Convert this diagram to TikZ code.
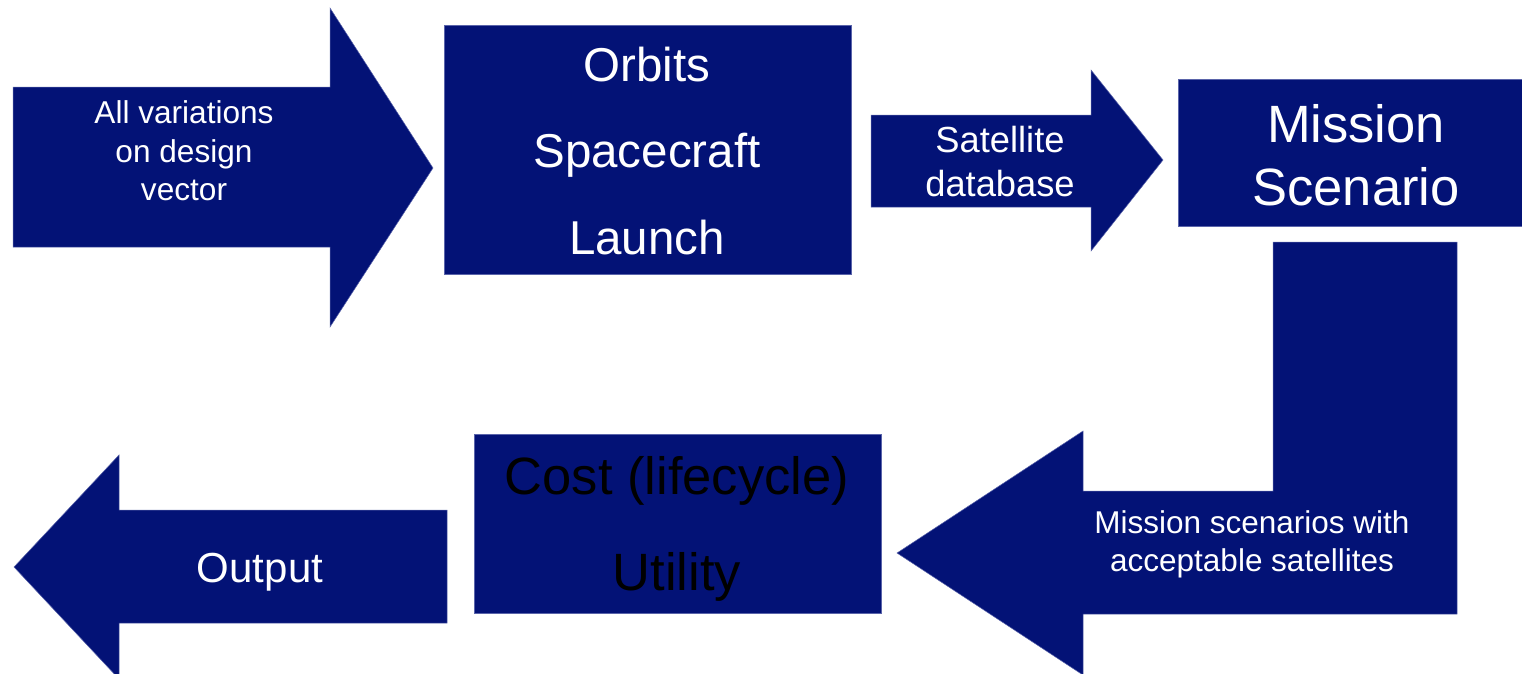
\documentclass[tikz,border=0pt]{standalone}
\usepackage{fontspec}
\setmainfont{Liberation Sans}
\definecolor{navy}{RGB}{3,18,118}
\definecolor{navyedge}{RGB}{90,100,170}
\begin{document}
\begin{tikzpicture}[x=1pt,y=-1pt,
  blk/.style={fill=navy, draw=navyedge, line width=0.5pt},
  lbl/.style={text=white, align=center, inner sep=0pt},
  sz/.style 2 args={font=\fontsize{#1}{#2}\selectfont}]
\useasboundingbox (0,0) rectangle (1522,673);

% input arrow
\path[blk] (13,87) -- (330,87) -- (330,8) -- (433,168) -- (330,327)
  -- (330,247) -- (13,247) -- cycle;
\node[lbl, sz={31.6}{38.5}] (inp) at (184,151) {All variations\\on design\\vector};

% models block
\path[blk] (444,25) rectangle (851,274);
\node[lbl, sz={47.5}{86.5}] (models) at (647,151) {Orbits\\Spacecraft\\Launch};

% satellite database arrow
\path[blk] (871,115) -- (1091,115) -- (1091,70) -- (1163,160) -- (1091,251)
  -- (1091,207) -- (871,207) -- cycle;
\node[lbl, sz={36.3}{44}] (satdb) at (1000,162) {Satellite\\database};

% mission scenario block
\path[blk] (1178,79) rectangle (1524,226);
\node[lbl, sz={52.5}{63}] (mission) at (1356,155) {Mission\\Scenario};

% bent return arrow
\path[blk] (1273,242) -- (1457,242) -- (1457,614) -- (1083,614) -- (1083,675)
  -- (897,553) -- (1083,431) -- (1083,491) -- (1273,491) -- cycle;
\node[lbl, sz={31.5}{38}] (accept) at (1252,544) {Mission scenarios with\\acceptable satellites};

% cost and utility block
\path[blk] (474,434) rectangle (881,613);
\node[lbl, text=black, sz={52.5}{96}] (cost) at (677,529) {Cost (lifecycle)\\Utility};

% output arrow
\path[blk] (447,510) -- (119,510) -- (119,455) -- (14,567) -- (119,679)
  -- (119,623) -- (447,623) -- cycle;
\node[lbl, sz={42}{50}] (out) at (260,572) {Output};
\end{tikzpicture}
\end{document}
